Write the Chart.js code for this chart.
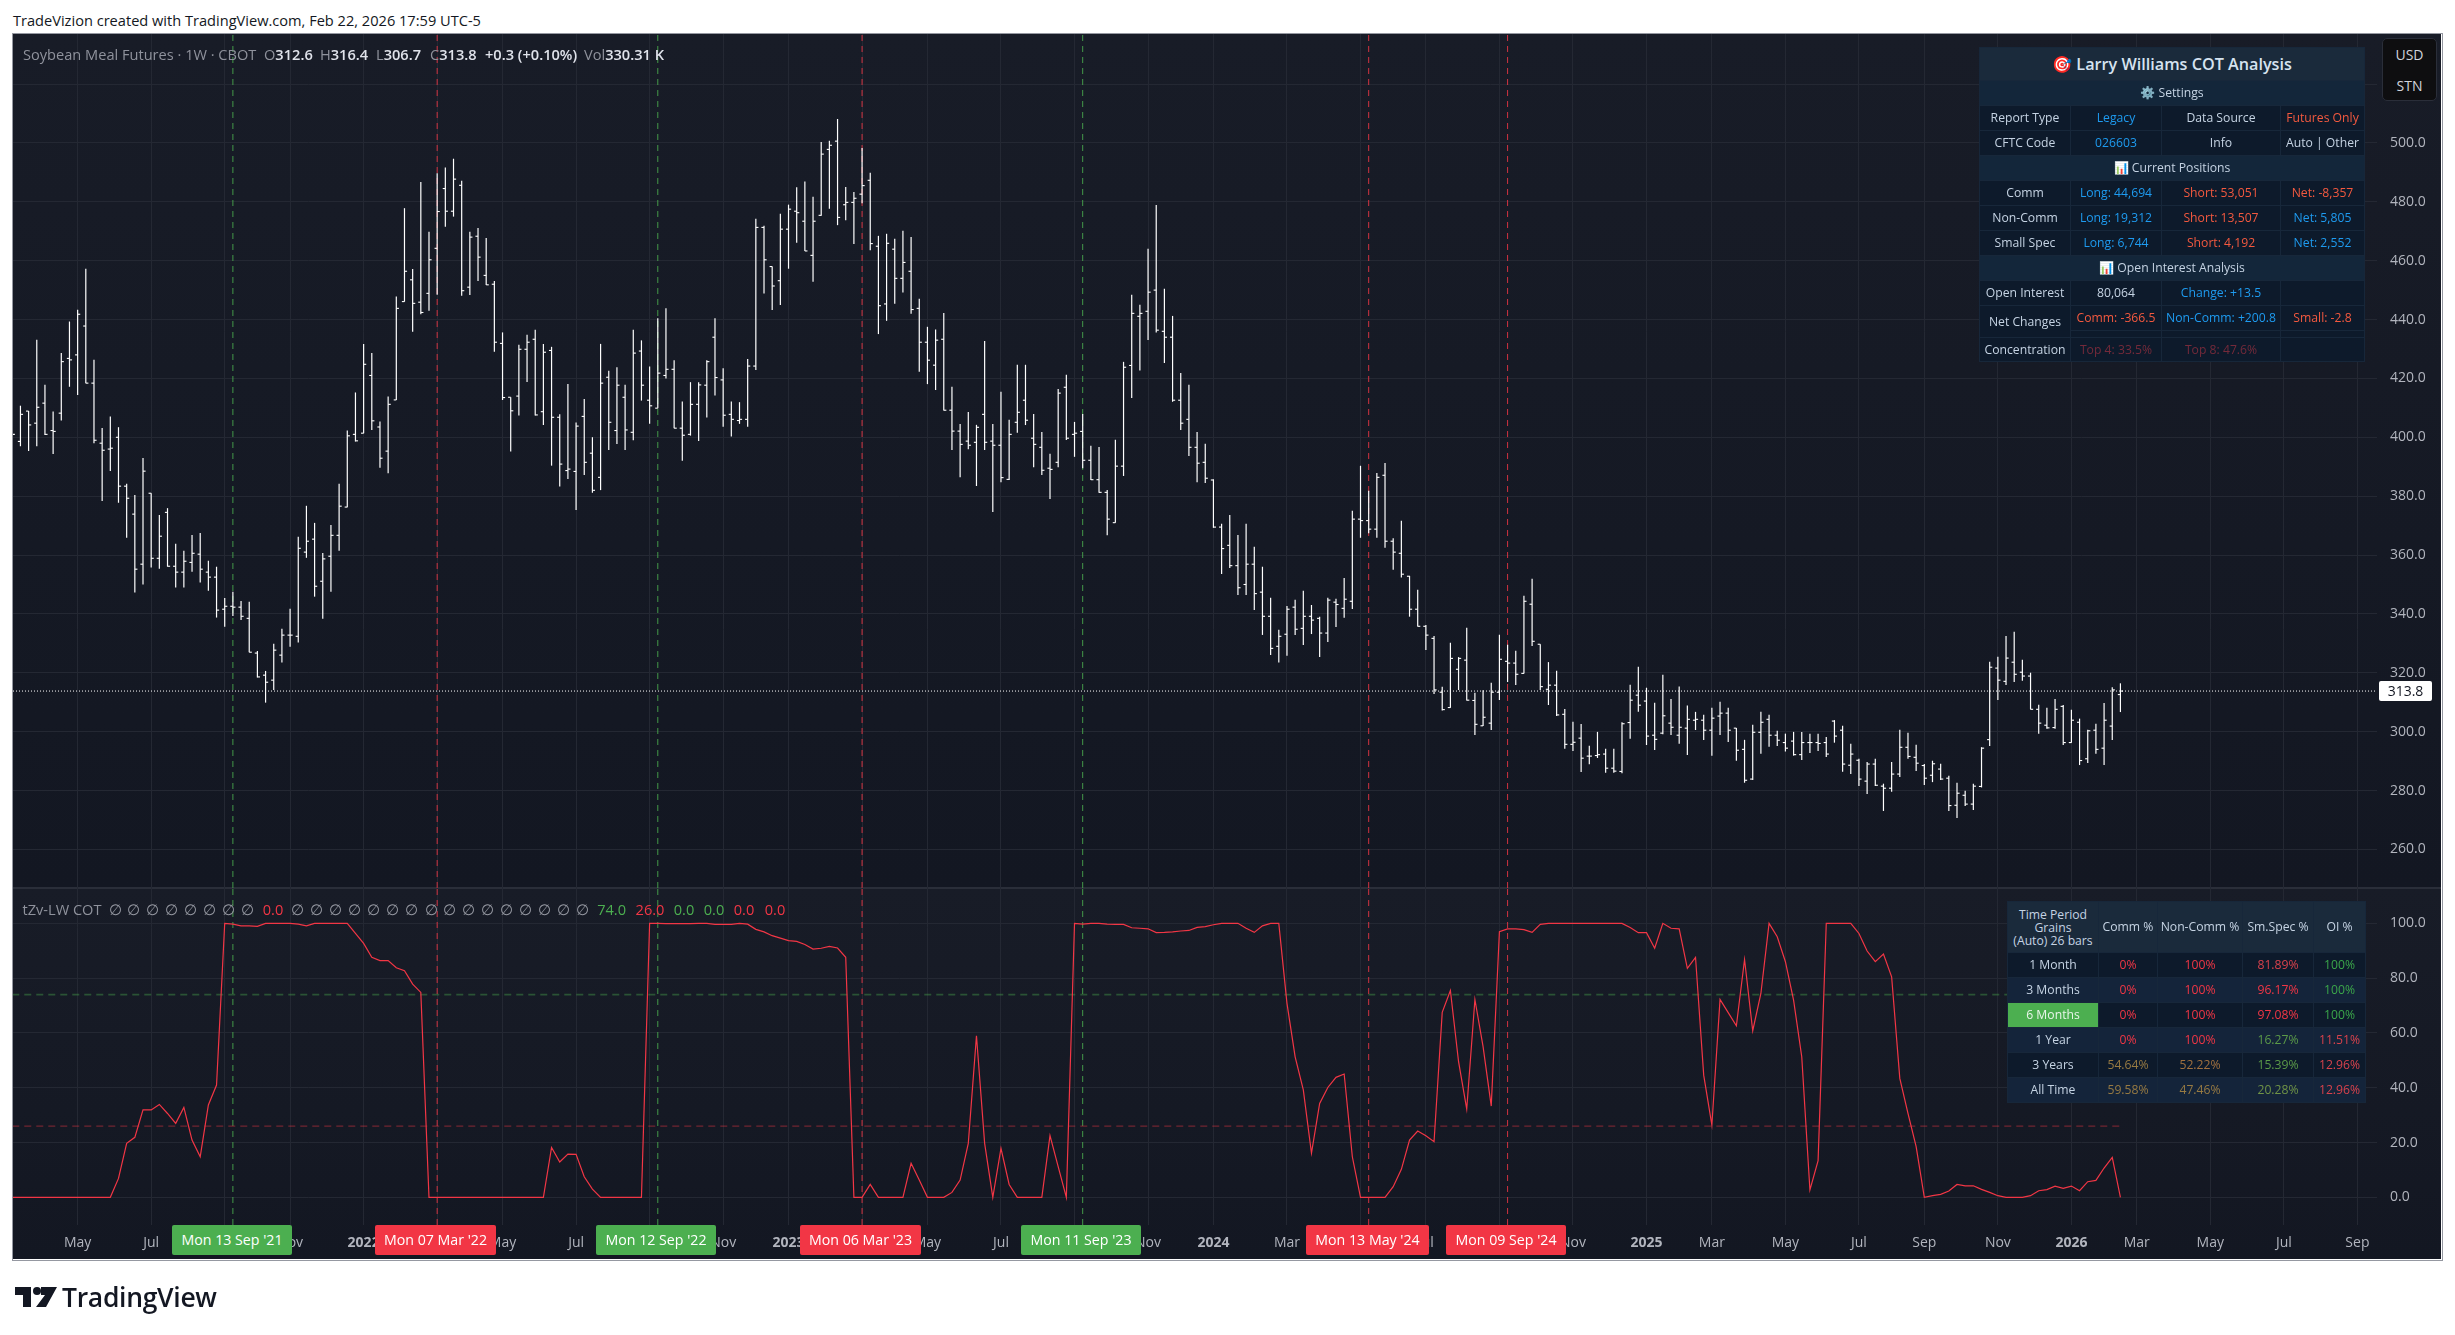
<!DOCTYPE html>
<html>
<head>
<meta charset="utf-8">
<script src="https://cdn.jsdelivr.net/npm/chart.js@4"></script>
<style>
html,body{margin:0;padding:0;background:#fff;width:2455px;height:1335px;overflow:hidden;font-family:'Open Sans',sans-serif}
.abs{position:absolute;white-space:nowrap}
#hdr{left:13px;top:10px;font-size:14.6px;line-height:20px;color:#131722}
#frame{position:absolute;left:12px;top:33px;width:2429px;height:1226px;border:1px solid #9598a1}
#p1{position:absolute;left:13px;top:34px;width:2428px;height:854px;background:linear-gradient(#181c27,#131722)}
#p2{position:absolute;left:13px;top:888px;width:2428px;height:371px;background:linear-gradient(#181c27,#131722)}
#sep{position:absolute;left:13px;top:887px;width:2428px;height:2px;background:#2a2e39}
canvas{position:absolute;left:0;top:0}
.lg{font-size:14.6px;line-height:20px;color:#8f929c}
.lg b{font-weight:600;color:#e0e3eb}
.badge{position:absolute;top:1225px;height:30px;line-height:30px;text-align:center;color:#fff;font-size:14.2px;border-radius:2px;white-space:nowrap}
.gr{background:#4caf50}.rd{background:#f23645}
#cur{position:absolute;left:2379px;top:681px;width:53px;height:20px;line-height:20px;text-align:center;background:#fff;color:#131722;font-size:14px;border-radius:2px}
#ccy{position:absolute;left:2382px;top:38px;width:53px;height:61px;background:#0e0e10;border:1px solid #2a2e39;border-radius:5px;color:#d1d4dc;font-size:14px;text-align:center;line-height:31px}
table{position:absolute;border-collapse:collapse;table-layout:fixed;font-size:12.2px;line-height:14px;color:#c5d3e3;text-align:center}
td{padding:0;border:1px solid #17273a;overflow:hidden;white-space:nowrap}
#t1{left:1979px;top:47px;width:385px}
#t2{left:2007px;top:901px;width:358px}
.ttl{background:#1a2a3b;font-size:16.2px;font-weight:600;color:#d6e3f0}
.sec{background:#13263a}
.r0{background:#0d1a2b}.r1{background:#14243a}
.bl{color:#1e9bf0}.or{color:#f4593f}.dm{color:#742a3a}
.hd{background:#1a2a3b}
.rr{color:#f23645}.rm{color:#d8424c}.gg{color:#3ba64a}.gd{color:#5b9a48}.br{color:#977a42}.bo{color:#a2713f}.ol{color:#6f9346}
#lgtxt{left:62px;top:1279px;font-size:26.5px;line-height:36px;font-weight:600;color:#131722;letter-spacing:-.3px}
</style>
</head>
<body>
<div id="hdr" class="abs">TradeVizion created with TradingView.com, Feb 22, 2026 17:59 UTC-5</div>
<div id="frame"></div><div id="p1"></div><div id="p2"></div><div id="sep"></div>
<canvas id="c" width="2455" height="1335"></canvas>

<div class="abs lg" style="left:23px;top:44px">Soybean Meal Futures · 1W · CBOT</div>
<div class="abs lg" style="left:264px;top:44px">O<b>312.6</b></div>
<div class="abs lg" style="left:320px;top:44px">H<b>316.4</b></div>
<div class="abs lg" style="left:376px;top:44px">L<b>306.7</b></div>
<div class="abs lg" style="left:430px;top:44px">C<b>313.8</b></div>
<div class="abs lg" style="left:485px;top:44px"><b>+0.3 (+0.10%)</b></div>
<div class="abs lg" style="left:584px;top:44px">Vol<b>330.31 K</b></div>
<div id="lg2"></div>

<div class="badge gr" style="left:172px;width:120px">Mon 13 Sep '21</div>
<div class="badge rd" style="left:375px;width:121px">Mon 07 Mar '22</div>
<div class="badge gr" style="left:596px;width:120px">Mon 12 Sep '22</div>
<div class="badge rd" style="left:800px;width:121px">Mon 06 Mar '23</div>
<div class="badge gr" style="left:1021px;width:120px">Mon 11 Sep '23</div>
<div class="badge rd" style="left:1306px;width:123px">Mon 13 May '24</div>
<div class="badge rd" style="left:1446px;width:120px">Mon 09 Sep '24</div>
<div id="cur">313.8</div>
<div id="ccy">USD<br>STN</div>

<table id="t1">
<colgroup><col style="width:91px"><col style="width:91px"><col style="width:119px"><col style="width:84px"></colgroup>
<tr style="height:33px"><td colspan="4" class="ttl">🎯 Larry Williams COT Analysis</td></tr>
<tr style="height:25px"><td colspan="4" class="sec">⚙️ Settings</td></tr>
<tr style="height:25px" class="r0"><td>Report Type</td><td class="bl">Legacy</td><td>Data Source</td><td class="or">Futures Only</td></tr>
<tr style="height:25px" class="r0"><td>CFTC Code</td><td class="bl">026603</td><td>Info</td><td>Auto | Other</td></tr>
<tr style="height:25px"><td colspan="4" class="sec">📊 Current Positions</td></tr>
<tr style="height:25px" class="r0"><td>Comm</td><td class="bl">Long: 44,694</td><td class="or">Short: 53,051</td><td class="or">Net: -8,357</td></tr>
<tr style="height:25px" class="r0"><td>Non-Comm</td><td class="bl">Long: 19,312</td><td class="or">Short: 13,507</td><td class="bl">Net: 5,805</td></tr>
<tr style="height:25px" class="r0"><td>Small Spec</td><td class="bl">Long: 6,744</td><td class="or">Short: 4,192</td><td class="bl">Net: 2,552</td></tr>
<tr style="height:25px"><td colspan="4" class="sec">📊 Open Interest Analysis</td></tr>
<tr style="height:25px" class="r0"><td>Open Interest</td><td>80,064</td><td class="bl">Change: +13.5</td><td></td></tr>
<tr style="height:25px" class="r0"><td rowspan="2">Net Changes</td><td class="or">Comm: -366.5</td><td class="bl">Non-Comm: +200.8</td><td class="or">Small: -2.8</td></tr>
<tr style="height:7px" class="r0"><td></td><td></td><td></td></tr>
<tr style="height:24px" class="r0"><td>Concentration</td><td class="dm">Top 4: 33.5%</td><td class="dm">Top 8: 47.6%</td><td></td></tr>
</table>

<table id="t2">
<colgroup><col style="width:91px"><col style="width:59px"><col style="width:85px"><col style="width:71px"><col style="width:52px"></colgroup>
<tr style="height:51px" class="hd"><td style="line-height:13px">Time Period<br>Grains<br>(Auto) 26 bars</td><td>Comm %</td><td>Non-Comm %</td><td>Sm.Spec %</td><td>OI %</td></tr>
<tr style="height:25px" class="r0"><td>1 Month</td><td class="rr">0%</td><td class="rr">100%</td><td class="rm">81.89%</td><td class="gg">100%</td></tr>
<tr style="height:25px" class="r1"><td>3 Months</td><td class="rr">0%</td><td class="rr">100%</td><td class="rr">96.17%</td><td class="gg">100%</td></tr>
<tr style="height:25px" class="r0"><td style="background:#4caf50;color:#e8f5e9">6 Months</td><td class="rr">0%</td><td class="rr">100%</td><td class="rr">97.08%</td><td class="gg">100%</td></tr>
<tr style="height:25px" class="r1"><td>1 Year</td><td class="rr">0%</td><td class="rr">100%</td><td class="gd">16.27%</td><td class="rm">11.51%</td></tr>
<tr style="height:25px" class="r0"><td>3 Years</td><td class="br">54.64%</td><td class="bo">52.22%</td><td class="gd">15.39%</td><td class="rm">12.96%</td></tr>
<tr style="height:25px" class="r1"><td>All Time</td><td class="br">59.58%</td><td class="br">47.46%</td><td class="ol">20.28%</td><td class="rm">12.96%</td></tr>
</table>

<svg class="abs" style="left:15px;top:1287px" width="42" height="20" viewBox="0 0 42 20"><path fill="#131722" d="M0 0H16V20H8V8H0ZM26 0H42L31 20H21L30 8H26Z"/><circle cx="22" cy="4" r="4" fill="#131722"/></svg>
<div id="lgtxt" class="abs">TradingView</div>

<script>
const highs=[410,410.7,408.9,433.1,417.8,408.7,428.6,439.3,443.3,457.2,
426.3,403.1,407,403.4,384.2,380.4,392.9,381,373.6,375.9,
363.8,361.4,366.8,367.5,358,356,345.4,347.5,344.4,344.1,
327.4,320.6,329.8,334.9,341.7,366.2,376.7,370.9,360.7,370.2,
384.2,402.3,415.2,431.7,428.6,405.3,413.8,447.8,477.8,457.1,
486.7,469.8,489.7,491.6,494.6,487.1,469.8,471.1,467.7,453.1,
435.6,413.6,431.4,434.8,436.5,431.7,430.7,407.8,418.1,405,
413,400,431.7,422.6,423.8,417.8,436.5,432.9,424,440.4,
443.8,426.1,412.1,418.7,418.7,426.1,440.4,423.4,412.1,411.9,
426.6,474.2,471.8,458,475.9,479,484.9,486.9,481.7,500.3,
500.7,508.1,485,483.3,498.2,489.8,468.4,469.1,467.4,470.1,
468,447,437.5,436.6,442.2,417.1,404.5,408.6,404.2,432.7,
404.5,415.4,405.9,424.6,424.6,407.9,401.8,394.4,416.4,421.2,
405.2,407.9,397.1,396.7,382.1,399.1,425.6,448.4,445,464,
478.9,450.4,441.2,421.8,417.8,401.8,397.8,385.7,370.6,373.6,
366.8,370.6,362.8,356,345.5,334.6,342.7,344.8,347.8,343,
339,345.5,345.1,352.2,375,390.3,381.8,387.8,391.2,365.7,
371.6,352.9,348.2,336.2,332.5,315.2,330.2,325.3,335.3,313.2,
314,316.6,332.9,329.5,327.5,346.1,351.9,329.7,323.6,320.7,
307.7,303.3,302.6,295.2,299.9,294.2,294.2,303.2,315.9,322,
314.9,309.8,319.3,311.1,315.3,308.9,306.7,305.7,308.1,310.1,
308.1,301.2,297.2,302.3,306.7,305.7,300.3,299.3,299.9,299.9,
299.3,299.3,298.2,303.9,302,295.9,290.8,289.7,290.8,282.3,
289.7,300.6,299.6,295.5,289,290.1,289.1,285,282.6,279.9,
282.3,294.7,323.7,325.4,332.5,333.9,324.4,320,309.1,308.1,
311.1,309,307.4,304.4,300.6,302.7,309.7,315.1,316.4];
const lows=[398,397,395.4,397,400.8,394.4,405.7,417.2,414.4,418.4,
398,378.4,388.6,377.8,365.9,347.3,350,355.8,355.4,356.1,
349,349,354.4,350.7,347.9,338.8,335.7,339.3,338,327,
318.4,309.9,314.2,323.5,328.9,330.3,359.1,345.9,338.4,347.6,
361.5,376.3,398.6,401.4,402.5,389.7,387.8,412.7,446.1,435.9,
441.8,443,448.5,471.6,475,448.1,448.4,453.1,451.8,429.1,
412.7,395.2,407.4,418.8,407.4,404.2,390.4,383.3,385.9,375.3,
387.2,381.2,382.1,395.7,397.8,395.7,399,412.5,404.6,409.9,
420,403.1,392.1,400.6,398.8,406.8,414.2,403.6,400.3,404.6,
403.6,422.9,448.9,443.3,445,457.3,466.1,463.3,452.9,475.3,
477.7,472.1,473.8,465.7,479.5,463.6,435.1,439.6,445.4,449.2,
442,422.3,418.1,416.1,409.1,395.7,386.5,396,383.5,395.7,
374.7,384.8,385.5,401.6,404.2,389.9,387.2,379.1,389.9,399.1,
393.4,389.5,385.5,381.2,366.8,371,386.9,413.4,422.7,433.1,
435.6,425.3,412.1,402.5,393.7,384.8,384.5,369.3,353.6,355.6,
346.5,346.5,341.4,332.9,326.1,323.5,325.8,332.9,329.5,333.2,
325.4,330.5,335.6,338.7,341.7,365.9,367.4,365.9,362.5,355,
352.4,339.1,335.8,327.8,312.8,307.2,308.2,314.2,310.6,298.9,
302,300.6,310.8,316.9,315.9,319.8,329.1,314.2,309.1,305.4,
294.2,293.5,286.3,289,291.1,286.1,286.1,285.9,297.6,306.8,
295.5,293.8,299.2,298.9,295.9,292.1,300.6,297.2,291.9,298.9,
296.5,290.2,282.7,283.6,292.5,294.9,295.2,293.3,291.9,290.4,
292.8,293.5,291.4,296.3,286.4,285.7,281.6,278.9,281.6,273.1,
279.6,284.6,290.8,286.7,281.9,282.9,283.6,273.1,270.7,274.8,
273.4,281.1,295.2,310.8,315.9,316.9,317.3,307.6,299.3,301,
301,295.5,296.3,288.7,289.4,292.5,288.7,297.2,306.7];
const opens=[403,398.6,408.9,404.8,411.6,402.3,408.2,426.8,428,437.8,
418.4,398,396,400,383.4,373.9,356.9,381,358.9,374.5,
356.2,354.2,357.5,360.3,354.2,352.5,341.6,342.6,342.3,338.5,
326.7,319.2,317.5,326,332.8,332.4,361,365.4,351.1,359.6,
366.7,376.3,401,401.4,421,403.5,395.3,412.7,446.1,453.5,
445.9,448.9,464.2,484.5,476.8,485.6,451,468.3,455,452,
431.9,413.6,414,429.9,433.3,408.7,429.5,406.8,388.7,388.4,
407.1,394.6,386.4,420.4,402.3,413.6,401.7,429.3,412.6,409.9,
421,423.1,403.1,401,411.2,417.7,434,419.5,407.8,405.7,
406.1,424.2,471.3,458,453.2,470.7,476.8,473.4,461.8,475.4,
497.8,500.6,479,479.8,482.6,487.3,464.9,445.3,463.9,454,
456.4,443.8,432.3,424.5,433.3,409.2,402.1,398.7,398.3,407.8,
398.7,397.3,385.7,405.1,412.6,399.7,396.6,389.5,391.5,417,
401,402,392.2,385.6,381.3,371,390.2,424.4,441.1,442.8,
450,436,434,412.6,406.1,396.6,391.5,385.5,369.5,363.3,
356.4,350,356.9,347.4,339.2,329,333.1,342.3,335.1,339.2,
338.5,333.5,344,341.9,344.3,372.2,371.7,368.8,387.1,364.7,
360.6,352.8,341.6,335.8,331.7,313.4,308.2,321.2,324.3,310.6,
302,302.9,313.4,323.9,323.3,319.8,343.3,329.7,314.4,315.8,
305.9,295.7,297.8,291.7,291.9,292.4,287.6,286.5,303.1,312.4,
310.4,298.8,299.5,302.9,298.8,301.2,303.9,303.9,300.5,305.3,
306.3,301.2,294,283.9,299.8,304.2,298.8,296.3,296.8,292.2,
296.3,296.3,296.3,303.6,300.5,288.6,290.3,283.2,289,281.5,
280.8,285.6,294.7,291.3,288.5,285.2,287.3,284.2,275,278.4,
275.4,281.4,297.3,321.6,317.1,323.6,320.2,318.9,307.6,302.2,
301.4,308.6,296.3,303.2,290.8,300.5,294.4,301.9,312.6];
const closes=[401,407.8,404.2,410.2,401,402,425.7,426.3,441.8,418.4,
399,395.6,396.3,383.4,379.3,355.2,388.5,358.9,366.4,356.2,
354.2,357.9,360.6,355.2,352.5,341.3,342.6,342.3,339.2,327,
318.6,316.8,327.7,332.8,332.8,362.3,364.7,349.4,358.7,366.7,
376.6,400.5,398.8,424.8,405.6,392.9,411.2,443.8,456.4,445.5,
442.4,460.3,476.7,476.8,487.7,449.8,468,461.2,451.8,432.3,
413.5,409,429.9,432.3,407.6,428.9,406.8,390.9,389.2,403.8,
391.5,382,418.4,405.1,417.7,402.5,428.6,417.7,410.7,421.8,
423.1,403.1,400.7,411.2,417.8,425.7,420.3,407.5,406.1,406.1,
424.2,471.3,460.3,451.4,470.7,477.5,476.3,463.3,473.4,496.2,
499.2,474.7,479.8,481.2,485.5,465.8,444.7,465.9,454,459.4,
443.4,432.3,426.2,433,409.2,402.1,397.6,397.3,403.4,398.3,
397.3,386.3,401,408.5,405.8,397.6,388.8,389.1,415,399.7,
401.4,392.2,385.6,381.3,372.2,390.2,423.8,442.1,442.1,449.3,
436.4,434,412.6,404.8,396.6,391.2,386.1,369.5,362.2,356.4,
348.9,356.9,346.9,339.2,328.3,332.4,341.6,334.8,339.2,337.9,
333.5,344.7,343.2,345,372.2,371.7,368.8,386.4,364.7,361,
353.5,341.6,335.8,332.8,314.2,307.5,324.9,324.9,310.7,302.5,
304.9,313.4,324.6,323.3,319.5,344.3,330.7,315.3,315.8,305.7,
295.7,296.4,291,291.7,292.2,287.6,286.6,302.7,310.7,309,
298.5,297.4,305.4,301.5,301.5,304.2,304.2,300.5,304.6,306.3,
300.5,293.7,283.5,299.8,303.2,298.8,297.1,294.4,292.2,296.3,
296.3,296,292.4,298.5,289,292.4,283.9,289,281.8,280.8,
285.6,294.7,291.6,289.3,284.2,289.1,283.9,274.9,279.1,275.4,
281.5,294.4,321.9,317.5,325,319.5,318.9,307.6,302.9,301.3,
307.6,296.3,303.9,290.2,300.3,294,303.9,314.2,313.8];
const cotIndex=[0,0,0,0,0,0,0,0,0,0,
0,0,0,6.9,19.7,21.9,31.9,31.9,33.9,30.6,
27,32.8,20.9,14.8,33.7,41,100,99.7,99.1,99.1,
98.9,100,100,100,100,99.7,99.1,100,100,100,
100,100,96.3,92.7,87.6,86.4,86.4,83.8,82.7,77.8,
74.8,0,0,0,0,0,0,0,0,0,
0,0,0,0,0,0,18.2,12.9,15.8,15.7,
7.5,3,0,0,0,0,0,0,100,100,
99.9,99.9,99.9,99.9,100,100,99.6,99.6,99.6,100,
99.7,97.8,96.9,95.5,94.6,93.7,93.4,92.3,90.6,90.9,
91.6,91,87.6,0,0,4.7,0,0,0,0,
12.4,6.3,0,0,0,1.8,6.3,19.7,59,19.7,
0,17.9,4.7,0,0,0,0,22.5,11.2,0,
100,99.7,100,100,99.7,99.6,99.6,98.4,98.2,98,
96.6,96.7,96.9,97.2,97.4,98.5,98.8,99.5,100,100,
100,98.2,96.7,99.1,100,100,70.8,51.3,39.2,16.1,
34.3,40.1,43.8,45,14.8,0,0,0,0,3.9,
10.2,20.9,24.2,22.5,20.3,67.5,75.5,49.5,32.2,72.2,
55,33.3,97,98,98,97.7,96.7,99.6,100,100,
100,100,100,100,100,100,100,100,98.5,96.6,
96.6,90.9,100,98.2,98,83.6,87.6,44.6,26.4,72.2,
67.4,62.6,86.8,60.8,74.4,100,95.1,86,72,51.3,
2.7,13.4,100,100,100,100,96.3,89.9,86,88.8,
80.5,43.4,30.6,18.5,0,0.6,1.1,2.3,4.7,4.2,
4.2,2.9,1.8,0.6,0,0,0,0.6,2.4,2.8,
4.1,3.3,4.1,2.4,5.7,6.2,10.7,14.6,0];
const timeTickBars=[8,17,26,34,43,52,60,69,78,87,95,104,112,121,130,139,147,156,165,173,182,191,200,208,217,226,234,243,252,260,269,278,287];
const timeTickLabels=['May','Jul','Sep','Nov','2022','Mar','May','Jul','Sep','Nov','2023','Mar','May','Jul','Sep','Nov','2024','Mar','May','Jul','Sep','Nov','2025','Mar','May','Jul','Sep','Nov','2026','Mar','May','Jul','Sep'];
const buySignalBars=[27,79,131];
const sellSignalBars=[52,104,166,183];
const lastPrice=313.8, upperLevel=74, lowerLevel=26;
const priceRange=[246.9,537], cotRange=[-10.1,112.9], barRange=[0.09,289.4];

// indicator legend
const lgItems=[['tZv-LW COT',62,'#8f929c'],
...[115,133,152,171.5,190.7,209,228,247].map(x=>['∅',x,'#9598a1']),['0.0',273,'#f23645'],
...[297,316,335.5,354.6,373.7,392.2,411.4,431,449.6,468.8,487.9,506.4,525.5,544,563.8,582.3].map(x=>['∅',x,'#9598a1']),
['74.0',611.6,'#4caf50'],['26.0',650,'#f23645'],['0.0',684,'#4caf50'],['0.0',714,'#4caf50'],['0.0',744,'#f23645'],['0.0',775,'#f23645']];
document.getElementById('lg2').innerHTML=lgItems.map(([t,x,c])=>`<div class="abs lg" style="left:${x-40}px;width:80px;text-align:center;top:899px;color:${c}">${t}</div>`).join('');

Chart.defaults.font.family="'Open Sans',sans-serif";
const pts=a=>a.map((v,i)=>({x:i,y:v}));
const vline=(x,col,axis,r)=>({type:'line',yAxisID:axis,data:[{x,y:r[0]},{x,y:r[1]}],borderColor:col,borderWidth:1,borderDash:[6,5],pointRadius:0,order:5});
const signalSets=[];
for(const [bars,col] of [[buySignalBars,'rgba(76,175,80,.85)'],[sellSignalBars,'rgba(242,54,69,.85)']])
  for(const b of bars){signalSets.push(vline(b,col,'price',priceRange),vline(b,col,'cot',cotRange));}
const endBar=highs.length-1;
new Chart(document.getElementById('c'),{
  type:'bar',
  data:{datasets:[
    {type:'bar',label:'High-Low',yAxisID:'price',data:highs.map((h,i)=>({x:i,y:[lows[i],h]})),backgroundColor:'#ffffff',barThickness:1,inflateAmount:0.1,order:2},
    {type:'line',label:'Open',yAxisID:'price',data:pts(opens),showLine:false,pointStyle:'dash',pointRotation:180,pointRadius:2.6,pointBorderWidth:1.1,pointBorderColor:'#fff',order:1},
    {type:'line',label:'Close',yAxisID:'price',data:pts(closes),showLine:false,pointStyle:'dash',pointRotation:0,pointRadius:2.6,pointBorderWidth:1.1,pointBorderColor:'#fff',order:1},
    {type:'line',label:'Last',yAxisID:'price',data:[{x:barRange[0],y:lastPrice},{x:barRange[1],y:lastPrice}],borderColor:'#fff',borderWidth:1,borderDash:[1,2],pointRadius:0,order:3},
    {type:'line',label:'Upper',yAxisID:'cot',data:[{x:0,y:upperLevel},{x:endBar,y:upperLevel}],borderColor:'rgba(76,175,80,.38)',borderWidth:1.6,borderDash:[7,5],pointRadius:0,order:4},
    {type:'line',label:'Lower',yAxisID:'cot',data:[{x:0,y:lowerLevel},{x:endBar,y:lowerLevel}],borderColor:'rgba(242,54,69,.42)',borderWidth:1.2,borderDash:[7,5],pointRadius:0,order:4},
    {type:'line',label:'COT Index',yAxisID:'cot',data:pts(cotIndex),borderColor:'#f23645',borderWidth:1.2,tension:0,pointRadius:0,order:1},
    ...signalSets
  ]},
  options:{
    responsive:false,animation:false,devicePixelRatio:1,
    layout:{padding:{left:13,top:34,right:14,bottom:76}},
    plugins:{legend:{display:false},tooltip:{enabled:false}},
    scales:{
      x:{type:'linear',axis:'x',min:barRange[0],max:barRange[1],offset:false,position:'bottom',
        grid:{color:'#242833',offset:false,drawTicks:false},border:{display:false},
        afterBuildTicks:s=>{s.ticks=timeTickBars.map(v=>({value:v}));},
        afterFit:s=>{s.height=34;},
        ticks:{autoSkip:false,maxRotation:0,minRotation:0,padding:10,color:'#b2b5be',
          font:c=>({size:14,weight:/^\d{4}$/.test(c.tick&&c.tick.label||'')?'700':'400'}),
          callback:v=>timeTickLabels[timeTickBars.indexOf(v)]}},
      price:{type:'linear',axis:'y',position:'right',stack:'panes',stackWeight:854,min:priceRange[0],max:priceRange[1],
        grid:{color:'#242833',drawTicks:false},border:{display:false},
        afterFit:s=>{s.width=64;},
        ticks:{stepSize:20,includeBounds:false,padding:13,color:'#b2b5be',font:{size:14},callback:v=>v.toFixed(1)}},
      cot:{type:'linear',axis:'y',position:'right',stack:'panes',stackWeight:337,min:cotRange[0],max:cotRange[1],
        grid:{color:'#242833',drawTicks:false},border:{display:false},
        afterFit:s=>{s.width=64;},
        ticks:{stepSize:20,includeBounds:false,padding:13,color:'#b2b5be',font:{size:14},callback:v=>v.toFixed(1)}}
    }
  }
});
</script>
</body>
</html>
